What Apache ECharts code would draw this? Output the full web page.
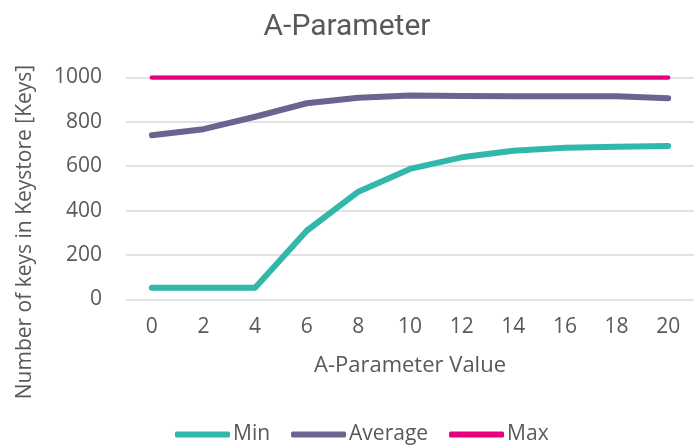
<!DOCTYPE html>
<html>
<head>
<meta charset="utf-8">
<script src="https://cdn.jsdelivr.net/npm/echarts@6/dist/echarts.min.js"></script>
<style>
  html, body { margin: 0; padding: 0; background: #fff; }
  #chart { width: 694px; height: 447px; }
</style>
</head>
<body>
<div id="chart"></div>
<script>
// A-parameter sweep: keys held in the keystore
const aValues = ['0', '2', '4', '6', '8', '10', '12', '14', '16', '18', '20'];
const minKeys = [52, 52, 52, 309, 485, 588, 640, 670, 683, 688, 691];
const avgKeys = [740, 767, 823, 884, 909, 919, 917, 916, 916, 916, 907];
const maxKeys = [1000, 1000, 1000, 1000, 1000, 1000, 1000, 1000, 1000, 1000, 1000];
const yTitle = 'Number of keys in Keystore [Keys]';

const textColor = '#595959';
const font = '"Open Sans", sans-serif';

const chart = echarts.init(document.getElementById('chart'), null, { renderer: 'canvas' });

function lineSeries(name, data, color, width) {
  return {
    name: name,
    type: 'line',
    data: data,
    symbol: 'none',
    smooth: false,
    lineStyle: { color: color, width: width, cap: 'round', join: 'round' },
    itemStyle: { color: color },
    emphasis: { disabled: true }
  };
}

chart.setOption({
  animation: false,
  title: {
    text: 'A-Parameter',
    left: 'center',
    top: 7,
    textStyle: { color: textColor, fontSize: 30, fontWeight: 'normal', fontFamily: 'Roboto, sans-serif' }
  },
  grid: { left: 126, width: 573, top: 77.5, bottom: 147.7, containLabel: false },
  // vertical axis title, centred on the whole chart body rather than the plot
  graphic: [{
    type: 'text',
    x: 25,
    y: 232,
    rotation: Math.PI / 2,
    style: {
      text: yTitle,
      fill: textColor,
      font: '21px "Open Sans", sans-serif',
      align: 'center',
      verticalAlign: 'middle'
    }
  }],
  legend: {
    left: 170,
    top: 419,
    itemWidth: 55,
    itemHeight: 6,
    itemGap: 21,
    icon: 'roundRect',
    textStyle: { color: textColor, fontSize: 21, fontFamily: font, padding: [0, 0, 0, -2] },
    data: ['Min', 'Average', 'Max']
  },
  xAxis: {
    type: 'category',
    data: aValues,
    boundaryGap: true,
    name: 'A-Parameter Value',
    nameLocation: 'middle',
    nameGap: 55,
    nameTextStyle: { color: textColor, fontSize: 22, fontFamily: font },
    axisLine: { show: false },
    axisTick: { show: false },
    axisLabel: { color: textColor, fontSize: 21, fontFamily: font, margin: 17 },
    splitLine: { show: false }
  },
  yAxis: {
    type: 'value',
    min: 0,
    max: 1000,
    interval: 200,
    axisLine: { show: false },
    axisTick: { show: false },
    axisLabel: { color: textColor, fontSize: 21, fontFamily: font, margin: 24, formatter: (v) => String(v) },
    splitLine: { show: true, lineStyle: { color: '#d9d9d9', width: 1.5 } }
  },
  series: [
    lineSeries('Min', minKeys, '#32b8ab', 6),
    lineSeries('Average', avgKeys, '#6e6390', 6),
    lineSeries('Max', maxKeys, '#e6007e', 4.5)
  ]
});
</script>
</body>
</html>
